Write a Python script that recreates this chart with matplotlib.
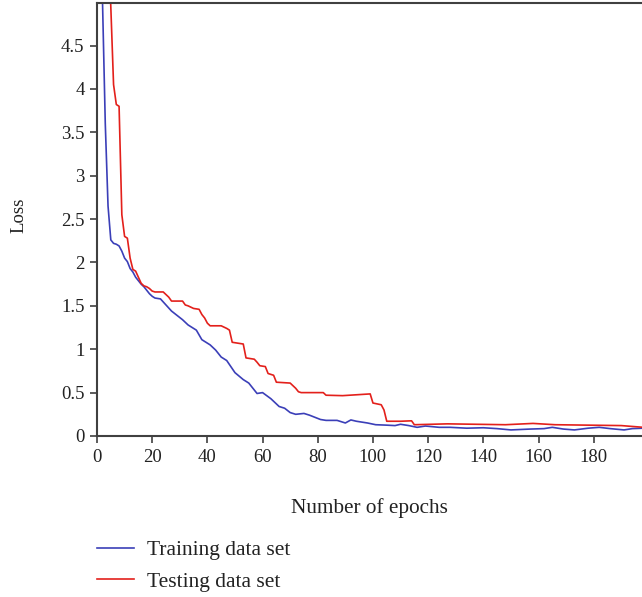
import matplotlib
matplotlib.use("Agg")
from matplotlib import pyplot as plt

plt.rcParams['font.family'] = ['Liberation Serif', 'DejaVu Serif']

# ===== DANE =====
train_epochs = [1, 2, 3, 4, 5, 6, 7, 8, 9, 10, 11, 12, 13, 14, 15, 16, 17, 18, 19, 20,
                21, 23, 25, 27, 29, 31, 33, 35, 36, 38, 41, 43, 45, 47, 50, 53, 55, 58,
                60, 63, 66, 68, 70, 72, 75, 77, 81, 83, 87, 90, 92, 94, 98, 101, 105,
                108, 110, 113, 116, 119, 124, 128, 134, 140, 145, 150, 157, 162, 165,
                169, 173, 178, 182, 186, 191, 194, 198]
train_loss = [6.5, 5.0, 3.6, 2.65, 2.26, 2.22, 2.21, 2.19, 2.13, 2.05, 2.01, 1.93, 1.89,
              1.83, 1.79, 1.75, 1.72, 1.68, 1.64, 1.61, 1.59, 1.58, 1.51, 1.44, 1.39,
              1.34, 1.28, 1.24, 1.22, 1.11, 1.05, 0.99, 0.91, 0.87, 0.73, 0.65, 0.61,
              0.49, 0.50, 0.43, 0.34, 0.32, 0.27, 0.25, 0.26, 0.24, 0.19, 0.18, 0.18,
              0.15, 0.185, 0.17, 0.15, 0.13, 0.125, 0.12, 0.135, 0.12, 0.10, 0.115,
              0.10, 0.10, 0.09, 0.095, 0.085, 0.07, 0.08, 0.085, 0.10, 0.08, 0.07,
              0.09, 0.10, 0.085, 0.07, 0.085, 0.09]

test_epochs = [1, 2, 3, 4, 5, 6, 7, 8, 9, 10, 11, 12, 13, 14, 15, 16, 17, 18, 19, 20,
               21, 24, 26, 27, 31, 32, 33, 35, 37, 38, 39, 40, 41, 45, 47, 48, 49, 53,
               54, 57, 58, 59, 61, 62, 64, 65, 70, 71, 72, 73, 74, 82, 83, 89, 99, 100,
               103, 104, 105, 110, 114, 115, 127, 148, 158, 166, 190, 198]
test_loss = [9.0, 8.0, 7.0, 5.8, 4.95, 4.05, 3.82, 3.80, 2.55, 2.30, 2.28, 2.05, 1.92,
             1.90, 1.83, 1.76, 1.73, 1.72, 1.70, 1.67, 1.66, 1.66, 1.60, 1.555, 1.555,
             1.51, 1.50, 1.47, 1.46, 1.40, 1.36, 1.30, 1.27, 1.27, 1.24, 1.22, 1.08,
             1.06, 0.90, 0.885, 0.85, 0.81, 0.80, 0.72, 0.70, 0.62, 0.61, 0.58, 0.55,
             0.51, 0.50, 0.50, 0.47, 0.465, 0.485, 0.38, 0.36, 0.30, 0.17, 0.17, 0.175,
             0.13, 0.14, 0.13, 0.145, 0.13, 0.12, 0.10]

x_ticks = [0, 20, 40, 60, 80, 100, 120, 140, 160, 180]
y_ticks = [0, 0.5, 1, 1.5, 2, 2.5, 3, 3.5, 4, 4.5]
y_tick_labels = ["0", "0.5", "1", "1.5", "2", "2.5", "3", "3.5", "4", "4.5"]

# ===== WYKRES =====
fig = plt.figure(figsize=(6.42, 5.97), dpi=100)
ax = fig.add_axes([97/642, 161/597, 545/642, 433/597])

ax.plot(train_epochs, train_loss, color="#3b3fb8", linewidth=1.2, label="Training data set")
ax.plot(test_epochs, test_loss, color="#e3201b", linewidth=1.2, label="Testing data set")

ax.set_xlim(0, 197.5)
ax.set_ylim(0, 4.99)
ax.set_xticks(x_ticks)
ax.set_yticks(y_ticks)
ax.set_yticklabels(y_tick_labels)

spine_color = "#404040"
for side in ["left", "top", "bottom"]:
    ax.spines[side].set_color(spine_color)
    ax.spines[side].set_linewidth(1.5)
ax.spines["right"].set_visible(False)
ax.tick_params(direction="out", length=5, width=1.2, color=spine_color,
               labelsize=13.5, labelcolor="#222222", pad=4)

ax.set_xlabel("Number of epochs", fontsize=15.3, color="#222222")
ax.xaxis.set_label_coords(0.5, -0.143)
ax.set_ylabel("Loss", fontsize=13.5, color="#222222")
ax.yaxis.set_label_coords(-0.128, 0.51)

handles, labels = ax.get_legend_handles_labels()
fig.legend(handles, labels, loc="upper left", bbox_to_anchor=(97/642, 1 - 540/597),
           frameon=False, fontsize=15.5, borderpad=0, borderaxespad=0,
           handlelength=1.7, handletextpad=0.6, labelspacing=0.55,
           labelcolor="#222222")

fig.savefig("out.png", dpi=100)
plt.close(fig)
